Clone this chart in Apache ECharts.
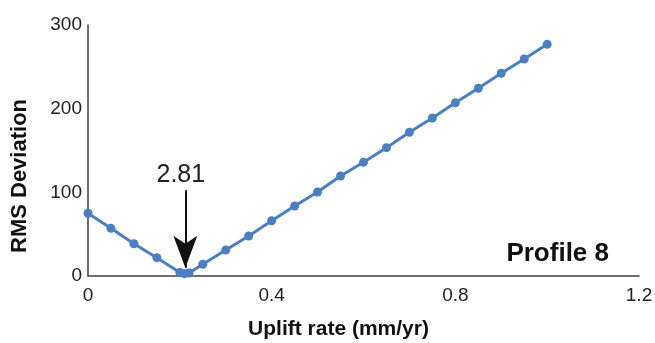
<!DOCTYPE html>
<html><head><meta charset="utf-8">
<script src="https://cdn.jsdelivr.net/npm/echarts@6/dist/echarts.min.js"></script>
<style>html,body{margin:0;padding:0;background:#fff}#c{width:655px;height:343px}</style>
</head><body><div id="c"></div>
<script>
const upliftRate = [0,0.05,0.1,0.15,0.2,0.21,0.22,0.25,0.3,0.35,0.4,0.45,0.5,0.55,0.6,0.65,0.7,0.75,0.8,0.85,0.9,0.95,1.0];
const rmsDeviation = [75,57,38.6,21.9,4.2,2.81,3.6,14,31,47.8,66,83.7,100.4,119.5,135.9,153.4,171.7,188.8,207,224.3,242.3,259.4,276.9];
const xTicks = [0,0.4,0.8,1.2];
const yTicks = [0,100,200,300];
const minLabel = "2.81";
const minX = 0.212;
const profileName = "Profile 8";

const chart = echarts.init(document.getElementById('c'), null, {renderer:'canvas'});
const font = '"Liberation Sans", Arial, sans-serif';
chart.setOption({
  animation:false,
  backgroundColor:'#fff',
  grid:{left:88,right:16,top:25,bottom:67,containLabel:false,outerBoundsMode:'none'},
  title:{text:profileName,right:41,top:236,textStyle:{fontFamily:font,fontWeight:'bold',fontSize:26,color:'#111'}},
  xAxis:{type:'value',min:xTicks[0],max:xTicks[xTicks.length-1],interval:0.4,
    name:'Uplift rate (mm/yr)',nameLocation:'middle',nameGap:43,
    nameTextStyle:{fontFamily:font,fontWeight:'bold',fontSize:21,color:'#111',padding:[0,50,0,0]},
    axisLine:{lineStyle:{color:'#404040',width:1.5}},axisTick:{show:false},splitLine:{show:false},
    axisLabel:{fontFamily:font,fontSize:19,color:'#222',margin:10,formatter:v=>String(v)}},
  yAxis:{type:'value',min:yTicks[0],max:yTicks[yTicks.length-1],interval:100,
    name:'RMS Deviation',nameLocation:'middle',nameGap:57,
    nameTextStyle:{fontFamily:font,fontWeight:'bold',fontSize:22,color:'#111',padding:[0,51,0,0]},
    axisLine:{show:true,lineStyle:{color:'#404040',width:1.5}},axisTick:{show:false},splitLine:{show:false},
    axisLabel:{fontFamily:font,fontSize:19,color:'#222',margin:6}},
  series:[{
    type:'line',
    data:upliftRate.map((x,i)=>[x,rmsDeviation[i]]),
    symbol:'circle',symbolSize:9,
    lineStyle:{color:'#4a7fc1',width:3},
    itemStyle:{color:'#4a7fc1'},
    markLine:{
      silent:true,
      symbol:['none','arrow'],symbolSize:[18,32],
      lineStyle:{color:'#111',width:2,type:'solid'},
      label:{show:true,position:'start',formatter:minLabel,fontFamily:font,fontSize:25,color:'#222',distance:3,padding:[0,9,0,0]},
      data:[[{coord:[minX,102.5]},{coord:[minX,10]}]]
    }
  }]
});
</script></body></html>
